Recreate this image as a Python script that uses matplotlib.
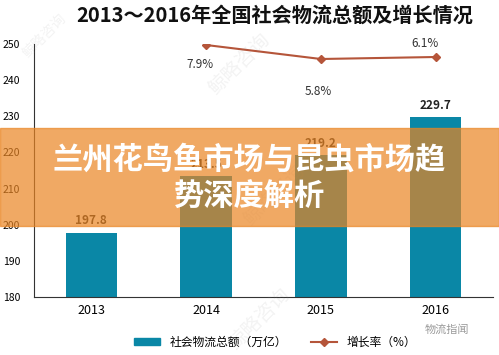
import matplotlib.pyplot as plt
from matplotlib.patches import Rectangle
from matplotlib.lines import Line2D

plt.rcParams['font.family'] = ['Noto Sans CJK SC', 'DejaVu Sans']

years = ['2013', '2014', '2015', '2016']
totals = [197.8, 213.5, 219.2, 229.7]
growth_years = [1, 2, 3]
growth = [7.9, 5.8, 6.1]
growth_labels = ['7.9%', '5.8%', '6.1%']

bar_color = '#0A87A6'
line_color = '#B5553A'

fig = plt.figure(figsize=(4.99, 3.55), dpi=100)
ax = fig.add_axes([34/499, 58/355, 459/499, 253/355])

x = range(len(years))
ax.bar(x, totals, width=0.45, color=bar_color)
for i, v in enumerate(totals):
    ax.text(i, v + 1.5, f'{v}', ha='center', va='bottom', fontsize=8.5,
            fontweight='bold', color='#222222')

ax.set_ylim(180, 250)
ax.set_xlim(-0.5, 3.5)
ax.set_yticks(range(180, 251, 10))
ax.set_xticks(list(x))
ax.set_xticklabels(years, fontsize=9)
ax.tick_params(axis='y', labelsize=7.5, length=0, pad=10)
ax.tick_params(axis='x', length=0, pad=5)
for s in ['top', 'right']:
    ax.spines[s].set_visible(False)
ax.spines['left'].set_color('#333333')
ax.spines['bottom'].set_color('#333333')

ax2 = ax.twinx()
ax2.plot(growth_years, growth, color=line_color, marker='D', markersize=4, lw=1.5)
ax2.set_ylim(-29.9, 8.05)
ax2.axis('off')
offsets = [(-0.05, -3.0), (-0.02, -4.9), (-0.09, 2.0)]
for gx, gy, lab, (dx, dy) in zip(growth_years, growth, growth_labels, offsets):
    ax2.text(gx + dx, gy + dy, lab, ha='center', va='center', fontsize=8.5, color='#333333')

fig.text(275/499, 1 - 15/355, '2013～2016年全国社会物流总额及增长情况', ha='center', va='center',
         fontsize=14.5, fontweight='bold', color='#111111')

handles = [Rectangle((0, 0), 1, 1, color=bar_color),
           Line2D([], [], color=line_color, marker='D', markersize=4, lw=1.5)]
fig.legend(handles, ['社会物流总额（万亿）', '增长率（%）'], loc='center',
           bbox_to_anchor=(275/499, 1 - 342/355), ncol=2, frameon=False,
           fontsize=8.5, handlelength=2.2, handleheight=0.6, columnspacing=2.0)

fig.text(447/499, 1 - 330/355, '物流指闻', ha='center', va='center', fontsize=8, color='#999999')
for (wx, wy, fs) in [(0.48, 0.82, 14), (0.52, 0.1, 14), (0.09, 0.9, 10), (0.55, 0.45, 14)]:
    fig.text(wx, wy, '鲸略咨询', rotation=45, ha='center', va='center', fontsize=fs,
             color='#888888', alpha=0.1)

# banner overlay
fig.patches.append(Rectangle((0, 1 - 226/355), 1, 98/355, transform=fig.transFigure,
                             color=(234/255, 133/255, 35/255), alpha=0.7, zorder=10))
fig.text(0.5, 1 - 160/355, '兰州花鸟鱼市场与昆虫市场趋', ha='center', va='center',
         fontsize=21.8, fontweight='bold', color='white', zorder=11)
fig.text(0.5, 1 - 197/355, '势深度解析', ha='center', va='center',
         fontsize=21.8, fontweight='bold', color='white', zorder=11)

fig.savefig('out.png', dpi=100)
